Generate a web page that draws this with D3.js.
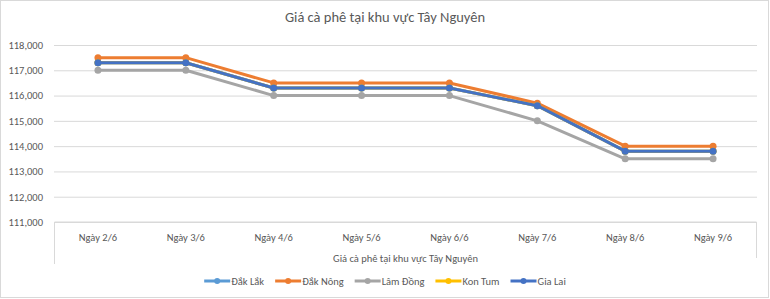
<!DOCTYPE html>
<html>
<head>
<meta charset="utf-8">
<script src="https://cdn.jsdelivr.net/npm/d3@7"></script>
<style>
  body { margin: 0; background: #fff; }
  text { font-family: Carlito, Calibri, "Noto Sans", sans-serif; fill: #595959; }
</style>
</head>
<body>
<div id="chart"></div>
<script>
// chart data
const days = ["Ngày 2/6", "Ngày 3/6", "Ngày 4/6", "Ngày 5/6", "Ngày 6/6", "Ngày 7/6", "Ngày 8/6", "Ngày 9/6"];
const seriesNames = ["Đắk Lắk", "Đắk Nông", "Lâm Đồng", "Kon Tum", "Gia Lai"];
const dakLak  = [117300, 117300, 116300, 116300, 116300, 115600, 113800, 113800];
const dakNong = [117500, 117500, 116500, 116500, 116500, 115700, 114000, 114000];
const lamDong = [117000, 117000, 116000, 116000, 116000, 115000, 113500, 113500];
const konTum  = [117300, 117300, 116300, 116300, 116300, 115600, 113800, 113800];
const giaLai  = [117300, 117300, 116300, 116300, 116300, 115600, 113800, 113800];
const yTicks = [111000, 112000, 113000, 114000, 115000, 116000, 117000, 118000];
const colors = ["#5B9BD5", "#ED7D31", "#A5A5A5", "#FFC000", "#4472C4"];

const series = [dakLak, dakNong, lamDong, konTum, giaLai].map(function (v, i) {
  return { name: seriesNames[i], values: v, color: colors[i] };
});

const width = 770, height = 299;
const plot = { left: 54, right: 757, top: 45, bottom: 222 };

let svg = d3.select("#chart").append("svg")
  .attr("width", width)
  .attr("height", height);

// outer border
svg.append("rect")
  .attr("x", 0.5).attr("y", 0.5)
  .attr("width", width - 2).attr("height", height - 2)
  .attr("fill", "none")
  .attr("stroke", "#d9d9d9");

// title
svg.append("text")
  .attr("x", width / 2)
  .attr("y", 22)
  .attr("text-anchor", "middle")
  .style("font-size", "14.5px")
  .text("Giá cà phê tại khu vực Tây Nguyên");

let x = d3.scaleBand()
  .domain(days)
  .range([plot.left, plot.right]);

let y = d3.scaleLinear()
  .domain([111000, 118000])
  .range([plot.bottom, plot.top]);

// gridlines + y labels
let yAxis = svg.append("g")
  .attr("transform", "translate(" + plot.left + ",0)")
  .call(d3.axisLeft(y)
    .tickValues(yTicks)
    .tickSize(-(plot.right - plot.left))
    .tickPadding(11)
    .tickFormat(d3.format(",")));
yAxis.select(".domain").remove();
yAxis.selectAll("line").attr("stroke", "#d9d9d9");
yAxis.selectAll("text").style("font-size", "10.5px").attr("fill", "#595959");

// box under the plot (category area)
svg.append("path")
  .attr("d", "M" + (plot.left + 0.5) + "," + (plot.bottom + 42) + "V" + plot.bottom + "H" + (plot.right - 0.5) + "V" + (plot.bottom + 36))
  .attr("fill", "none")
  .attr("stroke", "#d9d9d9");

// x labels
svg.append("g").selectAll("text")
  .data(days)
  .enter().append("text")
    .attr("x", function (d) { return x(d) + x.bandwidth() / 2; })
    .attr("y", 241)
    .attr("text-anchor", "middle")
    .style("font-size", "10.5px")
    .text(function (d) { return d; });

// x axis title
svg.append("text")
  .attr("x", (plot.left + plot.right) / 2)
  .attr("y", 262)
  .attr("text-anchor", "middle")
  .style("font-size", "10.5px")
  .text("Giá cà phê tại khu vực Tây Nguyên");

let line = d3.line()
  .x(function (d, i) { return x(days[i]) + x.bandwidth() / 2; })
  .y(function (d) { return y(d); });

let lines = svg.append("g").selectAll("g")
  .data(series)
  .enter().append("g");

lines.append("path")
  .attr("d", function (d) { return line(d.values); })
  .attr("fill", "none")
  .attr("stroke", function (d) { return d.color; })
  .attr("stroke-width", 3)
  .attr("stroke-linejoin", "round");

lines.selectAll("circle")
  .data(function (d) { return d.values.map(function (v, i) { return { v: v, i: i, color: d.color }; }); })
  .enter().append("circle")
    .attr("cx", function (d) { return x(days[d.i]) + x.bandwidth() / 2; })
    .attr("cy", function (d) { return y(d.v); })
    .attr("r", 3.5)
    .attr("fill", function (d) { return d.color; });

// legend
let legend = svg.append("g").attr("transform", "translate(0,281)");
let items = legend.selectAll("g")
  .data(series)
  .enter().append("g");

items.append("line")
  .attr("x1", 0).attr("x2", 26)
  .attr("stroke", function (d) { return d.color; })
  .attr("stroke-width", 3);
items.append("circle")
  .attr("cx", 13).attr("r", 3)
  .attr("fill", function (d) { return d.color; });
items.append("text")
  .attr("x", 27)
  .attr("y", 4)
  .style("font-size", "10.5px")
  .text(function (d) { return d.name; });

let widths = [];
items.selectAll("text").each(function () { widths.push(27 + this.getComputedTextLength()); });
let gap = 11;
let total = d3.sum(widths) + gap * (widths.length - 1);
let pos = (width - total) / 2;
items.attr("transform", function (d, i) {
  let p = pos;
  pos += widths[i] + gap;
  return "translate(" + p + ",0)";
});
</script>
</body>
</html>
